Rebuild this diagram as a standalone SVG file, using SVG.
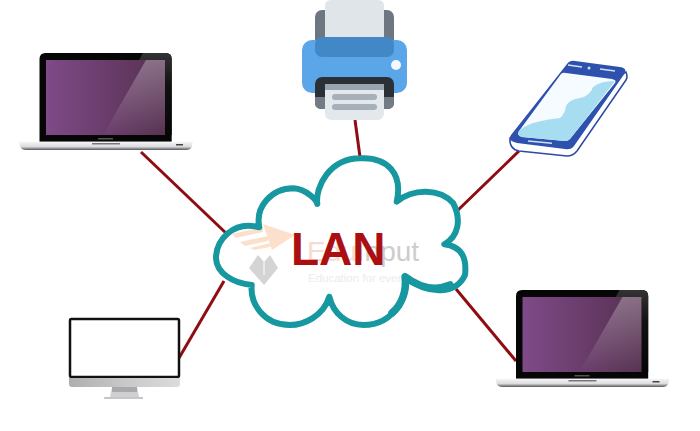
<svg xmlns="http://www.w3.org/2000/svg" width="700" height="431" viewBox="0 0 700 431">
<style>
.wire{stroke:#8f0d12;stroke-width:3;fill:none}
.lan{font:700 46px "Liberation Sans",Arial,sans-serif;fill:#ab0f12}
.wm{font-family:"Liberation Sans",Arial,sans-serif}
.outline{fill:none;stroke:#17979f;stroke-linejoin:round;stroke-linecap:round}
</style>
<defs>
<linearGradient id="scr" x1="0" x2="1" y1="0" y2="0"><stop offset="0" stop-color="#7f4a88"/><stop offset="1" stop-color="#55304f"/></linearGradient>
<linearGradient id="base" x1="0" x2="0" y1="0" y2="1"><stop offset="0" stop-color="#f6f6f8"/><stop offset=".6" stop-color="#dcdcde"/><stop offset="1" stop-color="#55555a"/></linearGradient>
<linearGradient id="shine" x1="0" x2="0" y1="0" y2="1"><stop offset="0" stop-color="#fff" stop-opacity=".3"/><stop offset="1" stop-color="#fff" stop-opacity=".01"/></linearGradient>
<linearGradient id="bez" x1="0" x2="0" y1="0" y2="1"><stop offset="0" stop-color="#333"/><stop offset=".4" stop-color="#111"/><stop offset="1" stop-color="#060606"/></linearGradient>
<linearGradient id="chin" x1="0" x2="1" y1="0" y2="0"><stop offset="0" stop-color="#aeaeb0"/><stop offset=".5" stop-color="#c8c8ca"/><stop offset="1" stop-color="#dcdcde"/></linearGradient>
<g id="laptop">
<path d="M39.500 141.700V59q0-6 6-6H165.700q6 0 6 6V141.700z" fill="#060606"/>
<path d="M143 53H165.700q6 0 6 6V135H165V60H139z" fill="url(#bez)"/>
<rect x="46" y="60" width="119" height="75" fill="url(#scr)"/>
<path d="M165 60H146L103 135H165z" fill="url(#shine)"/>
<rect x="98" y="138" width="15" height="1.500" fill="#555"/>
<path d="M19 141.700H192.700L192 146Q191 150 186 150H26Q21 150 20 146z" fill="url(#base)"/>
<rect x="92" y="143" width="28" height="1.500" fill="#77777a"/>
<rect x="176" y="144" width="7" height="1.500" fill="#444"/>
</g>
</defs>
<g id="connectors" class="wire">
<line x1="141" y1="152" x2="228" y2="235"/>
<line x1="355" y1="120" x2="360" y2="157"/>
<line x1="519" y1="151" x2="456" y2="212"/>
<line x1="179" y1="358" x2="224" y2="281"/>
<line x1="456" y1="289" x2="516" y2="361"/>
</g>
<g id="laptop-left"><use href="#laptop"/></g>
<g id="laptop-right"><use href="#laptop" x="476.500" y="237"/></g>
<g id="printer">
<rect x="315" y="10" width="79" height="47" rx="7" fill="#6d7681"/>
<rect x="302" y="40" width="105" height="53" rx="10" fill="#5aa6e8"/>
<rect x="315" y="37" width="79" height="20" rx="7" fill="#4388c6"/>
<path d="M325 37V6q0-6 6-6H378q6 0 6 6V37z" fill="#e0e5ea"/>
<circle cx="396" cy="65" r="5" fill="#f3f8fc"/>
<rect x="315" y="77" width="79" height="32" rx="7" fill="#2b3036"/>
<path d="M315 97H394V103q0 6-7 6H322q-7 0-7-6z" fill="#737b85"/>
<path d="M325 84H384V113q0 7-7 7H332q-7 0-7-7z" fill="#e3e8ec"/>
<rect x="325" y="84" width="59" height="6" fill="#9aa4ae"/>
<rect x="332" y="94" width="45" height="6" rx="3" fill="#a7afb8"/>
<rect x="332" y="104" width="45" height="6" rx="3" fill="#a7afb8"/>
</g>
<g id="phone">
<path d="M626 72Q628 77 626 80L577 151Q573 156 567 156L519 151Q509 149 510 138z" fill="#fff" stroke="#2b4aa3" stroke-width="1.500"/>
<path d="M567 64Q570 60 575 61L620 67Q627 68 625 73L574 146Q571 150 565 149L517 143Q507 141 511 135z" fill="#2f51ae"/>
<path d="M561 74Q563 72 566 73L612 79Q617 80 615 83L570 139Q568 141 565 141L522 137Q516 135 519 131z" fill="#f5fbfe"/>
<path d="M519 131Q524 126 533 123Q548 119 560 118Q565 114 566 106Q570 99 580 98Q590 96 593 87Q600 81 615 81L570 139Q568 141 565 141L522 137Q516 135 519 131z" fill="#a6ddf1"/>
<path d="M528 141L552 143.300M568 65L582 67M600 69L615 71" stroke="#cfe0f2" stroke-width="1.500" fill="none"/>
<circle cx="589" cy="68" r="1.500" fill="#cfe0f2"/>
</g>
<g id="desktop">
<rect x="70" y="319" width="109" height="58" rx="1.500" fill="#fff" stroke="#111" stroke-width="2.500"/>
<path d="M69 378H180V384q0 3-3 3H72q-3 0-3-3z" fill="url(#chin)"/>
<path d="M112 387H137L139 397H110z" fill="#d0d0d2"/>
<rect x="112" y="387" width="25" height="5" fill="#a9a9ab"/>
<rect x="104" y="397" width="39" height="2" fill="#c6c6c8"/>
</g>
<g id="cloud">
<path id="cloud-fill" d="M259.300 227.300C255 206.700 271.700 188.300 293.300 188.300C306.700 189.300 316.700 200 317.300 204C315 186.700 330 158.300 360 158.300C386.700 156.700 403.300 173.300 396.700 201.700C413.300 188.300 440 188.300 453.300 203.300C461.700 220 458.300 236.700 444.300 244.300C463.300 246.700 466.700 260 465 275C456.700 293.300 430 296.700 405 276.700C410 290 396.700 325 363.300 325C346.700 325 333.300 313.300 329.300 296.700C323.300 316.700 303.300 325 290 325C263.300 325 250 303.300 251.700 285C233.300 283.300 216.700 273.300 216 258.300C216 240 233.300 220 259.300 227.300z" fill="#fff"/>
<g id="watermark">
<g fill="#fbe0cc">
<path d="M263 224L295 235L272 250z"/>
<path d="M232 234L263 227V232L236 238zM240 242L268 236V241L245 246zM250 248L275 242V246L254 250z"/>
</g>
<path d="M249 268L258 255L264 262L270 255L278 268L264 285z" fill="#d4d4d4"/>
<path d="M264 262V275" stroke="#fff" stroke-width="1"/>
<text x="307" y="261" class="wm" font-size="28"><tspan fill="#f6dccf">Edu</tspan><tspan fill="#cdcdcd">Input</tspan></text>
<text x="308" y="282" class="wm" font-size="11.500" fill="#ececec">Education for every</text>
</g>
<path id="cloud-shape" class="outline" stroke-width="6" d="M259.300 227.300C255 206.700 271.700 188.300 293.300 188.300C306.700 189.300 316.700 200 317.300 204C315 186.700 330 158.300 360 158.300C386.700 156.700 403.300 173.300 396.700 201.700C413.300 188.300 440 188.300 453.300 203.300C461.700 220 458.300 236.700 444.300 244.300C463.300 246.700 466.700 260 465 275C456.700 293.300 430 296.700 405 276.700C410 290 396.700 325 363.300 325C346.700 325 333.300 313.300 329.300 296.700C323.300 316.700 303.300 325 290 325C263.300 325 250 303.300 251.700 285C233.300 283.300 216.700 273.300 216 258.300C216 240 233.300 220 259.300 227.300z"/>
<path class="outline" stroke-width="7.500" d="M450 285C436 291 420 288 405 276.700C407 290 402 305 392 313"/>
<text x="291" y="265" class="lan">LAN</text>
</g>
</svg>
